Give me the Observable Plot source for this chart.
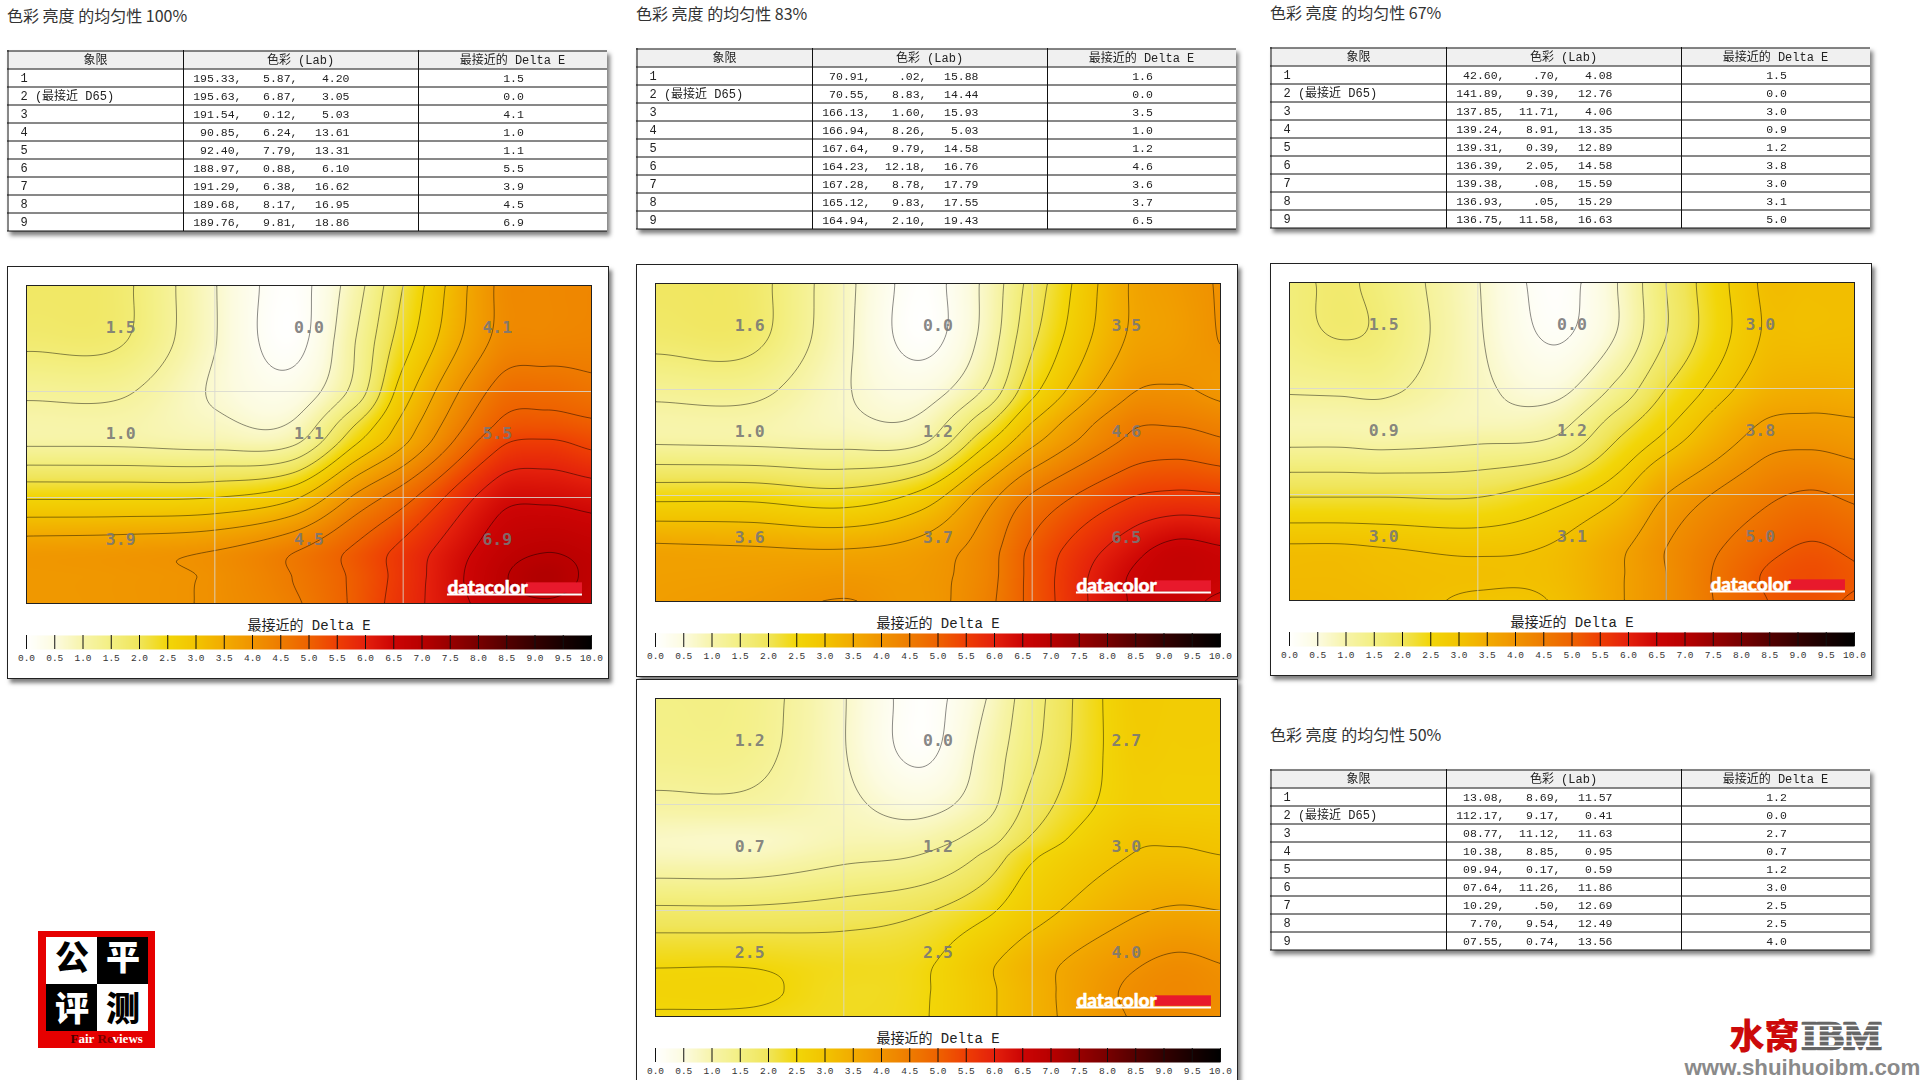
<!DOCTYPE html>
<html><head><meta charset="utf-8">
<script src="https://cdn.jsdelivr.net/npm/d3@7"></script>
<script src="https://cdn.jsdelivr.net/npm/@observablehq/plot@0.6"></script>
<style>
html,body{margin:0;padding:0;background:#fff;overflow:hidden}
#root{position:relative;width:1920px;height:1080px;overflow:hidden;background:#fff}
.abs{position:absolute}
.title{font:16px "Noto Sans CJK SC","Noto Sans",sans-serif;color:#333;white-space:pre;line-height:22px}
.card{background:#fff;border:1px solid #222;box-sizing:border-box;box-shadow:3px 4px 4px rgba(0,0,0,.5)}
svg{display:block}
</style></head><body><div id="root"></div>
<script>
const quadrants = ["1","2 (最接近 D65)","3","4","5","6","7","8","9"];
const headers = ["象限","色彩 (Lab)","最接近的 Delta E"];

const labA = [["195.33,","5.87,","4.20"],["195.63,","6.87,","3.05"],["191.54,","0.12,","5.03"],["90.85,","6.24,","13.61"],["92.40,","7.79,","13.31"],["188.97,","0.88,","6.10"],["191.29,","6.38,","16.62"],["189.68,","8.17,","16.95"],["189.76,","9.81,","18.86"]];
const labB = [["70.91,",".02,","15.88"],["70.55,","8.83,","14.44"],["166.13,","1.60,","15.93"],["166.94,","8.26,","5.03"],["167.64,","9.79,","14.58"],["164.23,","12.18,","16.76"],["167.28,","8.78,","17.79"],["165.12,","9.83,","17.55"],["164.94,","2.10,","19.43"]];
const labC = [["42.60,",".70,","4.08"],["141.89,","9.39,","12.76"],["137.85,","11.71,","4.06"],["139.24,","8.91,","13.35"],["139.31,","0.39,","12.89"],["136.39,","2.05,","14.58"],["139.38,",".08,","15.59"],["136.93,",".05,","15.29"],["136.75,","11.58,","16.63"]];
const labD = [["13.08,","8.69,","11.57"],["112.17,","9.17,","0.41"],["08.77,","11.12,","11.63"],["10.38,","8.85,","0.95"],["09.94,","0.17,","0.59"],["07.64,","11.26,","11.86"],["10.29,",".50,","12.69"],["7.70,","9.54,","12.49"],["07.55,","0.74,","13.56"]];

const deltaA = ["1.5","0.0","4.1","1.0","1.1","5.5","3.9","4.5","6.9"];
const deltaB = ["1.6","0.0","3.5","1.0","1.2","4.6","3.6","3.7","6.5"];
const deltaC = ["1.5","0.0","3.0","0.9","1.2","3.8","3.0","3.1","5.0"];
const deltaD = ["1.2","0.0","2.7","0.7","1.2","3.0","2.5","2.5","4.0"];

// Delta E on a lattice (rows top to bottom, columns left to right)
const columnsABD = [0,1/6,1/3,.47,.583,2/3,5/6,.92,1];
const columnsC = [0,.09,1/6,1/3,.47,.583,2/3,5/6,.92,1];
const rowsAll = [0,1/6,1/3,.44,1/2,2/3,5/6,.92,1];

const surfaceA = [
 [1.88,1.74,.70,.05,.97,2.12,4.09,4.23,4.28],
 [1.74,1.69,.70,.05,1.16,2.36,4.14,4.28,4.33],
 [1.24,1.22,.63,.38,1.35,2.84,4.67,4.80,4.67],
 [1.00,1.00,.78,.74,2.15,3.25,5.05,5.20,5.10],
 [1.12,1.11,1.02,1.11,2.60,3.51,5.39,5.58,5.39],
 [2.55,2.55,2.60,2.98,4.14,4.81,6.25,6.35,6.25],
 [3.85,3.90,4.04,4.47,5.10,5.62,6.68,6.90,6.78],
 [3.90,3.95,4.09,4.52,5.10,5.67,6.82,7.10,6.82],
 [3.90,3.95,4.09,4.44,5.10,5.72,6.68,6.87,6.68]];
const surfaceB = [
 [1.92,1.82,.82,.05,.77,1.82,3.53,3.84,4.08],
 [1.78,1.78,.79,.05,.82,2.02,3.57,3.80,4.06],
 [1.28,1.30,.72,.46,1.20,2.45,3.94,4.08,3.94],
 [1.00,1.00,.78,.80,2.00,3.10,4.40,4.48,4.35],
 [1.12,1.08,1.01,1.10,2.50,3.46,4.60,4.75,4.60],
 [2.45,2.45,2.30,2.74,3.80,4.56,5.42,5.57,5.52],
 [3.65,3.60,3.55,3.75,4.27,5.09,6.19,6.58,6.48],
 [3.75,3.79,3.89,3.89,4.32,5.14,6.43,6.67,6.58],
 [3.79,3.89,4.06,3.89,4.37,5.14,6.43,6.58,6.34]];
const surfaceC = [
 [1.60,1.75,1.55,.72,.05,.72,1.70,3.08,3.12,3.12],
 [1.55,1.72,1.60,.75,.15,.75,1.70,3.05,3.12,3.15],
 [1.25,1.28,1.30,.80,.55,1.35,2.20,3.30,3.45,3.40],
 [.95,.95,.95,.85,1.00,1.95,2.60,3.70,3.80,3.75],
 [1.10,1.10,1.05,1.15,1.30,2.25,2.85,3.90,4.00,3.90],
 [2.15,2.15,2.15,2.15,2.50,3.00,3.70,4.45,4.65,4.50],
 [3.10,3.10,3.05,2.97,3.10,3.60,4.10,4.90,5.15,5.00],
 [3.20,3.20,3.15,3.10,3.15,3.65,4.10,5.10,5.30,5.15],
 [3.25,3.23,3.20,3.00,3.08,3.65,4.10,5.05,5.20,5.05]];
const surfaceD = [
 [1.45,1.40,.72,.05,.68,1.50,2.75,2.78,2.78],
 [1.40,1.35,.72,.10,.85,1.60,2.72,2.76,2.76],
 [1.10,1.10,.80,.55,1.00,1.85,2.72,2.74,2.74],
 [.75,.72,.90,.95,1.45,2.15,2.95,3.00,2.95],
 [.85,.85,1.10,1.25,1.80,2.45,3.05,3.12,3.07],
 [1.78,1.78,1.88,2.05,2.40,2.85,3.45,3.60,3.55],
 [2.46,2.46,2.35,2.42,2.95,3.35,3.95,4.15,4.05],
 [2.58,2.58,2.35,2.45,2.95,3.35,4.10,4.25,4.15],
 [2.46,2.44,2.35,2.46,2.95,3.35,4.05,4.15,4.10]];

const levelsAB = [.2,.68,1.16,1.64,2.12,2.6,3.08,3.56,4.04,4.52,5,5.48,5.96,6.44,6.92];
const levelsC = [.2,.7,1.2,1.7,2.2,2.7,3.05,3.7,4.1,4.6,5.1];
const levelsD = [.2,.7,1.2,1.7,2.1,2.5,3.05,3.55,4.05];

const scaleStops = [0,.5,1,1.5,2,2.5,3,3.5,4,4.5,5,5.5,6,6.5,7,7.5,8,8.5,9,9.5,10];
const scaleColors = ["#ffffff","#fcfbe0","#f7f4aa","#f3ef82","#f0e55a","#f2d608","#f2c400","#f2ab00","#f09400","#ee7c00","#ee6200","#ee3e04","#e4200c","#cc0404","#b80000","#980000","#780000","#540000","#340000","#180000","#000000"];
const centers = [1/6,3/6,5/6];

const root = document.getElementById("root");
const place = (el,x,y,cls) => { el.classList.add("abs"); if(cls) el.classList.add(cls); el.style.left=x+"px"; el.style.top=y+"px"; root.appendChild(el); return el; };
const colorOpts = {type:"linear",domain:scaleStops,range:scaleColors,clamp:true};
const MONO = '"Liberation Mono","Noto Sans CJK SC",monospace';

// Plot interpolate hook: smooth cubic blending across the read lattice
function hermite(xs,ps,t){
  const n=xs.length;
  let i=d3.bisectRight(xs,t)-1; i=Math.max(0,Math.min(n-2,i));
  const h=xs[i+1]-xs[i], u=Math.max(0,Math.min(1,(t-xs[i])/h));
  const slope=k=>k===0?(ps[1]-ps[0])/(xs[1]-xs[0]):k===n-1?(ps[n-1]-ps[n-2])/(xs[n-1]-xs[n-2]):(ps[k+1]-ps[k-1])/(xs[k+1]-xs[k-1]);
  const m0=slope(i)*h,m1=slope(i+1)*h,u2=u*u,u3=u2*u;
  return (2*u3-3*u2+1)*ps[i]+(u3-2*u2+u)*m0+(-2*u3+3*u2)*ps[i+1]+(u3-u2)*m1;
}
function latticeSmooth(index,w,h,X,Y,V){
  const xs=[...new Set(Array.from(index,i=>+X[i].toFixed(2)))].sort(d3.ascending);
  const ys=[...new Set(Array.from(index,i=>+Y[i].toFixed(2)))].sort(d3.ascending);
  const grid=ys.map(()=>new Array(xs.length).fill(0));
  for(const i of index) grid[ys.indexOf(+Y[i].toFixed(2))][xs.indexOf(+X[i].toFixed(2))]=V[i];
  const W=new Float64Array(w*h);
  for(let px=0;px<w;px++){
    const col=grid.map(r=>hermite(xs,r,px+.5));
    for(let py=0;py<h;py++) W[py*w+px]=hermite(ys,col,py+.5);
  }
  return W;
}

function addTitle(text,x,y){const d=document.createElement("div");d.textContent=text;place(d,x,y,"title");}

function addTable(lab,delta,x,y){
  const W=600,H=181;
  const rows=lab.map((l,i)=>({q:quadrants[i],a:l[0],b:l[1],c:l[2],d:delta[i],i}));
  const wrap=document.createElement("div");
  wrap.style.filter="drop-shadow(3px 4px 2px rgba(0,0,0,.5))";
  wrap.appendChild(Plot.plot({width:W,height:H,margin:0,
    x:{domain:[0,W],range:[0,W],axis:null},y:{domain:[0,10],range:[0.5,H-0.5],axis:null},
    style:{background:"#fff",overflow:"visible"},
    marks:[
      Plot.rect([0],{x1:0,x2:W,y1:0,y2:1,fill:"#f0f0f0"}),
      Plot.ruleY(d3.range(0,11),{stroke:"#111",strokeWidth:1}),
      Plot.ruleX([0.5,176,411],{stroke:"#111",strokeWidth:1}),
      Plot.text(headers,{x:[88,293,505],y:[.5,.5,.5],text:d=>d,fontFamily:MONO,fontSize:12,fill:"#222"}),
      Plot.text(rows,{x:13,y:d=>d.i+1.5,text:"q",textAnchor:"start",fontFamily:MONO,fontSize:12,fill:"#222"}),
      Plot.text(rows,{x:234,y:d=>d.i+1.5,text:"a",textAnchor:"end",fontFamily:MONO,fontSize:11.5,fill:"#222"}),
      Plot.text(rows,{x:290,y:d=>d.i+1.5,text:"b",textAnchor:"end",fontFamily:MONO,fontSize:11.5,fill:"#222"}),
      Plot.text(rows,{x:342,y:d=>d.i+1.5,text:"c",textAnchor:"end",fontFamily:MONO,fontSize:11.5,fill:"#222"}),
      Plot.text(rows,{x:506,y:d=>d.i+1.5,text:"d",fontFamily:MONO,fontSize:11.5,fill:"#222"})
    ]}));
  place(wrap,x,y);
}

function addMap(columns,surface,levels,delta,x,y){
  const pts=[];
  surface.forEach((row,j)=>row.forEach((v,i)=>pts.push({x:columns[i],y:rowsAll[j],v})));
  const labels=delta.map((t,k)=>({t,x:centers[k%3],y:centers[Math.floor(k/3)]}));
  const W=565,H=318;
  const svg=Plot.plot({width:W,height:H,margin:0,
    x:{domain:[0,1],axis:null},y:{domain:[1,0],axis:null},color:colorOpts,
    style:{overflow:"visible",background:"transparent"},
    marks:[
      Plot.raster(pts,{x:"x",y:"y",fill:"v",x1:0,x2:1,y1:0,y2:1,interpolate:latticeSmooth,pixelSize:1}),
      Plot.contour(pts,{x:"x",y:"y",value:"v",x1:0,x2:1,y1:0,y2:1,interpolate:latticeSmooth,pixelSize:1,thresholds:levels,stroke:"#000",strokeOpacity:.45,strokeWidth:1,fill:"none"}),
      Plot.ruleX([1/3,2/3],{stroke:"#d8d8d0",strokeOpacity:.85}),
      Plot.ruleY([1/3,2/3],{stroke:"#d8d8d0",strokeOpacity:.85}),
      Plot.text(labels,{x:"x",y:"y",text:"t",dy:-11,fontFamily:'"DejaVu Sans Mono",monospace',fontWeight:"bold",fontSize:16.5,fill:"#777",fillOpacity:.9}),
      Plot.rect([0],{x1:.885,x2:.984,y1:.935,y2:.968,fill:"#e8192c"}),
      Plot.ruleY([.972],{x1:.745,x2:.984,stroke:"#fff",strokeWidth:2}),
      Plot.text(["datacolor"],{x:.745,y:.951,textAnchor:"start",fontFamily:"Lato,'Open Sans',sans-serif",fontWeight:"900",fontSize:19,fill:"#fff",stroke:"#fff",strokeWidth:.5}),
      Plot.frame({stroke:"#222"})
    ]});
  place(svg,x,y);
}

function addLegend(x,y){
  const svg=Plot.plot({width:599,height:56,marginLeft:19,marginRight:15,marginTop:20,marginBottom:22,
    x:{domain:[0,10],axis:null},y:{domain:[0,1],axis:null},color:colorOpts,
    style:{overflow:"visible",background:"transparent"},
    marks:[
      Plot.raster({fill:(v)=>v,x1:0,x2:10,y1:0,y2:1,pixelSize:1}),
      Plot.ruleX(scaleStops,{stroke:"#111",strokeWidth:1}),
      Plot.axisX({ticks:scaleStops,tickFormat:d3.format(".1f"),tickSize:0,tickPadding:5,fontFamily:MONO,fontSize:9.5,fill:"#333",stroke:"none"}),
      Plot.text(["最接近的 Delta E"],{frameAnchor:"top",lineAnchor:"middle",dy:-10,fontFamily:MONO,fontSize:14,fill:"#222"})
    ]});
  place(svg,x,y);
}

function addCard(x,y,w,h){const d=document.createElement("div");d.style.width=w+"px";d.style.height=h+"px";place(d,x,y,"card");}

function panel(dx,dy,columns,surface,levels,delta){
  addCard(7+dx,266+dy,602,413);
  addMap(columns,surface,levels,delta,26+dx,285+dy);
  addLegend(7+dx,615+dy);
}

addTitle("色彩 亮度 的均匀性 100%",7,4);
addTable(labA,deltaA,7,50);
panel(0,0,columnsABD,surfaceA,levelsAB,deltaA);

addTitle("色彩 亮度 的均匀性 83%",636,2);
addTable(labB,deltaB,636,48);
panel(629,-2,columnsABD,surfaceB,levelsAB,deltaB);
panel(629,413,columnsABD,surfaceD,levelsD,deltaD);

addTitle("色彩 亮度 的均匀性 67%",1270,1);
addTable(labC,deltaC,1270,47);
panel(1263,-3,columnsC,surfaceC,levelsC,deltaC);

addTitle("色彩 亮度 的均匀性 50%",1270,723);
addTable(labD,deltaD,1270,769);

// 公平评测 badge
const badge=[{c:"a",r:"p",f:"#fff",t:"公",k:"#000"},{c:"b",r:"p",f:"#000",t:"平",k:"#fff"},{c:"a",r:"q",f:"#000",t:"评",k:"#fff"},{c:"b",r:"q",f:"#fff",t:"测",k:"#000"}];
place(Plot.plot({width:117,height:117,marginTop:5,marginLeft:7,marginRight:7,marginBottom:17,
  x:{domain:["a","b"],axis:null,padding:0},y:{domain:["p","q"],axis:null,padding:0},
  style:{background:"#e60000",overflow:"visible"},
  marks:[
    Plot.cell(badge,{x:"c",y:"r",fill:d=>d.f}),
    Plot.text(badge.filter(d=>d.r==="p"),{x:"c",y:"r",text:"t",dy:-2,fill:d=>d.k,fontSize:34,fontWeight:"900",fontFamily:'"Noto Sans CJK SC"'}),
    Plot.text(badge.filter(d=>d.r==="q"),{x:"c",y:"r",text:"t",dy:2,fill:d=>d.k,fontSize:34,fontWeight:"900",fontFamily:'"Noto Sans CJK SC"'}),
    Plot.text(["F"],{frameAnchor:"bottom-left",dx:25,dy:11,textAnchor:"start",fill:"#4a0000",fontFamily:'"Liberation Serif"',fontWeight:"bold",fontSize:13}),
    Plot.text(["air"],{frameAnchor:"bottom-left",dx:33,dy:11,textAnchor:"start",fill:"#fff",fontFamily:'"Liberation Serif"',fontWeight:"bold",fontSize:13}),
    Plot.text(["Re"],{frameAnchor:"bottom-left",dx:52,dy:11,textAnchor:"start",fill:"#7a0000",fontFamily:'"Liberation Serif"',fontWeight:"bold",fontSize:13}),
    Plot.text(["views"],{frameAnchor:"bottom-left",dx:67,dy:11,textAnchor:"start",fill:"#fff",fontFamily:'"Liberation Serif"',fontWeight:"bold",fontSize:13})
  ]}),38,931);

// 水窝IBM watermark
const stripes=[0,1,2,3,4,5];
place(Plot.plot({width:236,height:66,margin:0,
  x:{domain:[0,236],axis:null},y:{domain:[0,66],range:[0,66],axis:null},
  style:{background:"transparent",overflow:"visible"},
  marks:[
    Plot.text(["水窝"],{x:2,y:19,textAnchor:"start",fontSize:35,fontWeight:"900",fill:"#cc0a0a",fontFamily:'"Noto Sans CJK SC"'}),
    Plot.text(["IBM"],{x:74,y:18,textAnchor:"start",fontSize:40,fontWeight:"bold",fill:"#666",stroke:"#666",strokeWidth:2.5,fontFamily:'"Liberation Serif"'}),
    Plot.ruleY(stripes,{y:d=>7+d*5.2,x1:72,x2:154,stroke:"#fff",strokeWidth:1.4}),
    Plot.text(["www.shuihuoibm.com"],{x:-43,y:49,textAnchor:"start",fontSize:22.3,fontWeight:"bold",fill:"#8a8a8a",fontFamily:'"Liberation Sans"'})
  ]}),1727,1018);
</script></body></html>
